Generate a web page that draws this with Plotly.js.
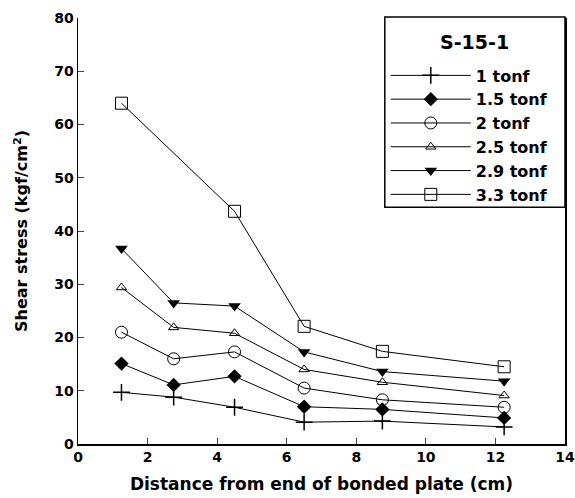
<!DOCTYPE html>
<html>
<head>
<meta charset="utf-8">
<script src="https://cdn.plot.ly/plotly-3.0.1.min.js"></script>
<style>html,body{margin:0;padding:0;background:#fff;}#chart{width:575px;height:498px;}</style>
</head>
<body>
<div id="chart"></div>
<script>
const distance = [1.25, 2.75, 4.5, 6.5, 8.75, 12.25];
const seriesNames = ["1 tonf", "1.5 tonf", "2 tonf", "2.5 tonf", "2.9 tonf", "3.3 tonf"];
const load1_0 = [9.7, 8.8, 6.9, 4.1, 4.3, 3.2];
const load1_5 = [15.1, 11.1, 12.7, 7.0, 6.5, 4.9];
const load2_0 = [21.0, 16.0, 17.3, 10.5, 8.3, 6.9];
const load2_5 = [29.4, 21.9, 20.8, 14.0, 11.6, 9.1];
const load2_9 = [36.7, 26.5, 25.9, 17.3, 13.6, 11.8];
const load3_3 = [64.0, null, 43.7, 22.1, 17.4, 14.5];
const xTicks = [0, 2, 4, 6, 8, 10, 12, 14];
const yTicks = [0, 10, 20, 30, 40, 50, 60, 70, 80];
const legendTitle = "S-15-1";

const values = [load1_0, load1_5, load2_0, load2_5, load2_9, load3_3];
const markers = [
  {symbol: "cross-thin-open", size: 12, color: "black", line: {color: "black", width: 1.5}},
  {symbol: "diamond", size: 11, color: "black"},
  {symbol: "circle-open", size: 12, color: "black", line: {color: "black", width: 1}},
  {symbol: "triangle-up-open", size: 9, color: "black", line: {color: "black", width: 1}},
  {symbol: "triangle-down", size: 11, color: "black"},
  {symbol: "square-open", size: 12, color: "black", line: {color: "black", width: 1}}
];

const traces = values.map((v, i) => ({
  x: distance, y: v, name: seriesNames[i], type: "scatter", mode: "lines+markers",
  connectgaps: true,
  line: {color: "black", width: 1}, marker: markers[i]
}));

const fam = "DejaVu Sans, Liberation Sans, Arial, sans-serif";
const bold = (size) => ({family: fam, size: size, color: "black", weight: "bold"});
const layout = {
  width: 575, height: 498,
  margin: {l: 78, r: 10, t: 18, b: 54},
  paper_bgcolor: "white", plot_bgcolor: "white",
  font: {family: fam, color: "black"},
  showlegend: true,
  xaxis: {
    range: [0, 14], tickvals: xTicks, ticks: "inside", ticklen: 6, tickwidth: 1,
    showgrid: false, zeroline: false, showline: true, linecolor: "black", linewidth: 1.5,
    mirror: false,
    tickfont: bold(14),
    title: {text: "Distance from end of bonded plate (cm)", standoff: 14, font: bold(17)}
  },
  yaxis: {
    range: [0, 80], tickvals: yTicks, ticks: "inside", ticklen: 6, tickwidth: 1,
    showgrid: false, zeroline: false, showline: true, linecolor: "black", linewidth: 1.5,
    mirror: true,
    tickfont: bold(14),
    title: {text: "Shear stress (kgf/cm<sup>2</sup>)", standoff: 22, font: bold(16)}
  },
  legend: {
    x: 0.632, y: 0.905, xanchor: "left", yanchor: "top",
    bgcolor: "rgba(0,0,0,0)", borderwidth: 0,
    itemwidth: 80, tracegroupgap: 0,
    font: bold(16)
  },
  shapes: [{
    type: "rect", xref: "paper", yref: "paper", x0: 0.630, x1: 1.0, y0: 0.556, y1: 1.0023,
    line: {color: "black", width: 1.5}, fillcolor: "white", layer: "below"
  }],
  annotations: [{
    text: legendTitle, xref: "paper", yref: "paper", x: 0.815, y: 0.944,
    xanchor: "center", yanchor: "middle", showarrow: false, font: bold(19)
  }]
};

Plotly.newPlot("chart", traces, layout, {displayModeBar: false, staticPlot: true});
</script>
</body>
</html>
